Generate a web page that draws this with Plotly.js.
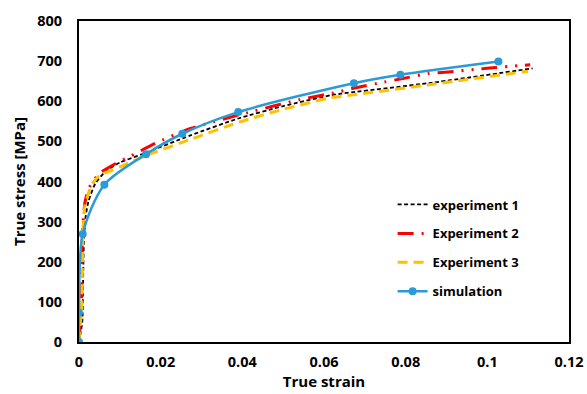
<!DOCTYPE html>
<html>
<head>
<meta charset="utf-8">
<script src="https://cdn.plot.ly/plotly-3.0.1.min.js"></script>
<style>html,body{margin:0;padding:0;background:#fff;}#chart{width:587px;height:394px;}</style>
</head>
<body>
<div id="chart"></div>
<script>
// Experiment 1 (black short dash)
var exp1Strain = [0, 0.0008, 0.001, 0.0012, 0.0016, 0.0023, 0.004, 0.0064, 0.01, 0.0154, 0.0273, 0.039, 0.05, 0.0617, 0.0642, 0.0863, 0.1111];
var exp1Stress = [0, 50, 150, 250, 310, 350, 395, 424, 447, 468, 515, 557, 588, 615, 619, 646, 682];

// Experiment 2 (red long dash dot dot)
var exp2Strain = [0, 0.0006, 0.0008, 0.001, 0.0015, 0.0025, 0.005, 0.009, 0.012, 0.0187, 0.0273, 0.043, 0.054, 0.0634, 0.0675, 0.0748, 0.079, 0.0855, 0.0904, 0.0978, 0.102, 0.1105];
var exp2Stress = [0, 100, 250, 300, 350, 385, 420, 445, 460, 495, 532, 576, 604, 623, 633, 648, 656, 669, 673, 680, 684, 691];

// Experiment 3 (yellow dash)
var exp3Strain = [0, 0.0007, 0.0009, 0.0011, 0.0015, 0.003, 0.005, 0.008, 0.012, 0.0165, 0.0273, 0.0392, 0.05, 0.0617, 0.0642, 0.0863, 0.11];
var exp3Stress = [0, 100, 250, 311, 341, 390, 415, 428, 445, 465, 505, 548, 580, 609, 612, 642, 675];

// Simulation (blue with markers)
var simStrain = [0, 0, 0.0009, 0.0062, 0.0164, 0.0253, 0.039, 0.0673, 0.0787, 0.1027];
var simStress = [0, 73, 269, 392, 468, 519, 573, 645, 666, 699];

var seriesNames = ["experiment 1", "Experiment 2", "Experiment 3", "simulation"];
var xTickVals = [0, 0.02, 0.04, 0.06, 0.08, 0.1, 0.12];
var xTickText = ["0", "0.02", "0.04", "0.06", "0.08", "0.1", "0.12"];
var yTickVals = [0, 100, 200, 300, 400, 500, 600, 700, 800];

var FONT = "'Open Sans', Lato, sans-serif";

var traces = [
  {x: exp1Strain, y: exp1Stress, name: seriesNames[0], mode: "lines", legendgroup: "a",
   line: {color: "#000000", width: 1.8, dash: "4px,2.5px", shape: "spline", smoothing: 0.6}},
  {x: exp2Strain, y: exp2Stress, name: seriesNames[1], mode: "lines", legendgroup: "b",
   line: {color: "#ff0000", width: 3, dash: "16px,8px,2px,8px,2px,8px", shape: "spline", smoothing: 0.6}},
  {x: exp3Strain, y: exp3Stress, name: seriesNames[2], mode: "lines", legendgroup: "c",
   line: {color: "#ffc000", width: 3, dash: "10px,6px", shape: "spline", smoothing: 0.6}},
  {x: simStrain, y: simStress, name: seriesNames[3], mode: "lines+markers", legendgroup: "d",
   line: {color: "#2a9bd6", width: 2.5, shape: "spline", smoothing: 0.8},
   marker: {color: "#2a9bd6", size: 8}}
];

var layout = {
  width: 587, height: 394,
  margin: {l: 79, r: 18, t: 21, b: 52},
  paper_bgcolor: "#ffffff", plot_bgcolor: "#ffffff",
  font: {family: FONT, color: "#000000", size: 15},
  showlegend: true,
  legend: {
    x: 0.64, y: 0.475, xanchor: "left", yanchor: "top",
    bgcolor: "rgba(0,0,0,0)", borderwidth: 0,
    font: {family: FONT, size: 13, color: "#000000", weight: "bold"},
    traceorder: "grouped", tracegroupgap: 9
  },
  xaxis: {
    range: [0, 0.12], tickvals: xTickVals, ticktext: xTickText,
    showgrid: false, zeroline: false, showline: true, mirror: true,
    linecolor: "#000000", linewidth: 2, ticks: "", ticklabelstandoff: 6,
    tickfont: {family: FONT, size: 14.5, color: "#000000", weight: "bold"},
    title: {text: "True strain", standoff: 4, font: {family: FONT, size: 15, color: "#000000", weight: "bold"}}
  },
  yaxis: {
    range: [0, 800], tickvals: yTickVals,
    showgrid: false, zeroline: false, showline: true, mirror: true,
    linecolor: "#000000", linewidth: 2, ticks: "", ticklabelstandoff: 12,
    tickfont: {family: FONT, size: 14.5, color: "#000000", weight: "bold"},
    title: {text: "True stress [MPa]", standoff: 8, font: {family: FONT, size: 15, color: "#000000", weight: "bold"}}
  }
};

Plotly.newPlot("chart", traces, layout, {displayModeBar: false, staticPlot: true});
</script>
</body>
</html>
